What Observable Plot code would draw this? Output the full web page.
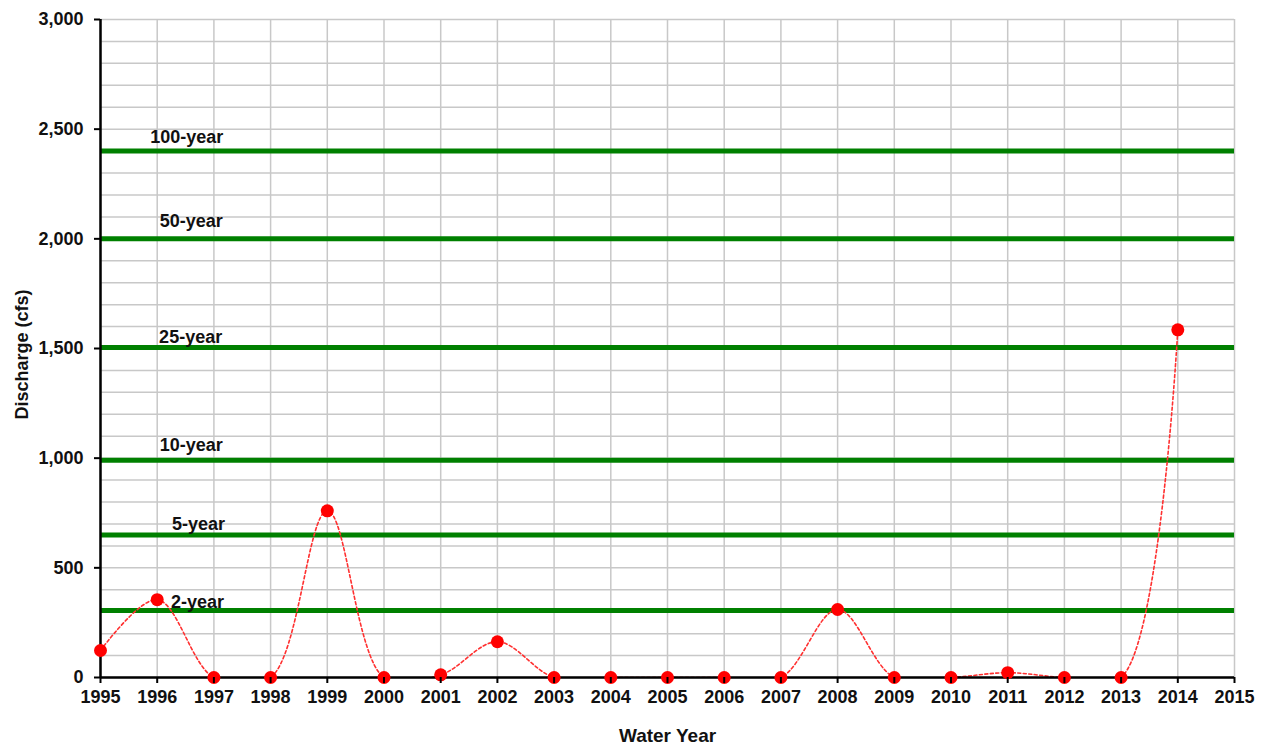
<!DOCTYPE html>
<html>
<head>
<meta charset="utf-8">
<script src="https://cdn.jsdelivr.net/npm/d3@7"></script>
<script src="https://cdn.jsdelivr.net/npm/@observablehq/plot@0.6"></script>
<style>
  html, body { margin: 0; padding: 0; background: #fff; }
  #chart svg { display: block; }
</style>
</head>
<body>
<div id="chart"></div>
<script>
const years = [1995,1996,1997,1998,1999,2000,2001,2002,2003,2004,2005,2006,2007,2008,2009,2010,2011,2012,2013,2014];
const discharge = [123,355,0,0,760,0,12,163,0,0,0,0,0,310,0,0,22,0,0,1585];

const levelNames = ["2-year","5-year","10-year","25-year","50-year","100-year"];
const levelValues = [305,650,990,1505,2000,2400];
const levelLabelYear = [1996.71,1996.73,1996.6,1996.59,1996.6,1996.52];
const levelLabelValue = [342,698,1058,1550,2079,2462];

const xTicks = d3.range(1995, 2016);
const yMajor = d3.range(0, 3001, 500);
const yMinor = d3.range(0, 3001, 100);

const series = years.map((y, i) => ({year: y, q: discharge[i]}));
const levels = levelNames.map((n, i) => ({name: n, value: levelValues[i], lx: levelLabelYear[i], ly: levelLabelValue[i]}));

const font = "'Liberation Sans', Arial, sans-serif";

const chart = Plot.plot({
  width: 1268,
  height: 747,
  marginLeft: 100,
  marginRight: 34,
  marginTop: 19,
  marginBottom: 70,
  style: {fontFamily: font, fontSize: "18px", fontWeight: "bold", color: "#111", background: "#fff"},
  x: {domain: [1995, 2015]},
  y: {domain: [0, 3000]},
  marks: [
    Plot.ruleY(yMinor, {stroke: "#c8c8c8", strokeWidth: 1.5}),
    Plot.ruleX(xTicks, {stroke: "#c8c8c8", strokeWidth: 1.5}),
    Plot.ruleY(levels, {y: "value", stroke: "#008000", strokeWidth: 5}),
    Plot.text(levels, {x: "lx", y: "ly", text: "name", fontSize: 18, fontWeight: "bold", fill: "#111", textAnchor: "middle"}),
    Plot.line(series, {x: "year", y: "q", curve: "catmull-rom", stroke: "#ff3030", strokeWidth: 1.6, strokeDasharray: "3,2.5", clip: true}),
    Plot.ruleX([1995], {stroke: "#000", strokeWidth: 2.5}),
    Plot.ruleY([0], {stroke: "#000", strokeWidth: 2.5}),
    Plot.dot(series, {x: "year", y: "q", r: 6.5, fill: "#ff0000", stroke: "none"}),
    Plot.axisX({ticks: xTicks, tickFormat: d => String(d), tickSize: 6, tickPadding: 7, stroke: "#000", strokeWidth: 2, fontSize: 18, label: null}),
    Plot.axisY({ticks: yMajor, tickFormat: d3.format(","), tickSize: 6, tickPadding: 11, stroke: "#000", strokeWidth: 2, fontSize: 18, label: null}),
    Plot.text(["Water Year"], {frameAnchor: "bottom", dy: 58, fontSize: 19, fontWeight: "bold", fill: "#111", lineAnchor: "middle", textAnchor: "middle"}),
    Plot.text(["Discharge (cfs)"], {frameAnchor: "left", dx: -78, dy: 6, rotate: -90, fontSize: 18, fontWeight: "bold", fill: "#111", lineAnchor: "middle", textAnchor: "middle"})
  ]
});
document.getElementById("chart").appendChild(chart);
</script>
</body>
</html>
